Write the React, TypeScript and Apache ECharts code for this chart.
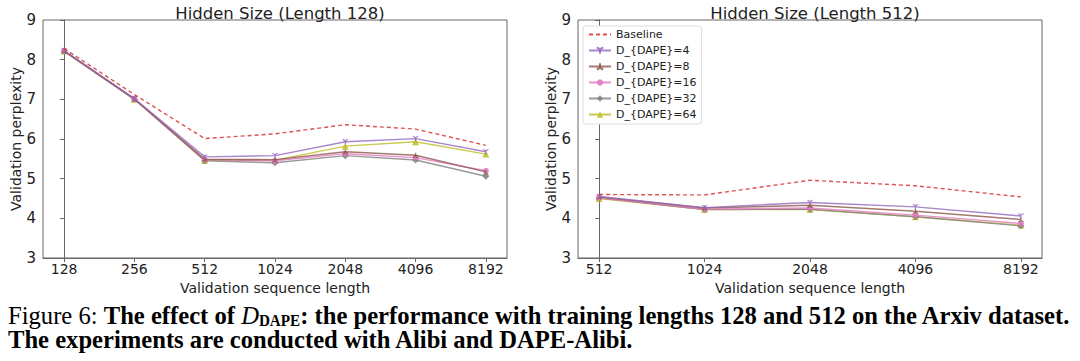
import React, { useEffect, useRef } from "react";
import * as echarts from "echarts";

const leftCats = ["128", "256", "512", "1024", "2048", "4096", "8192"];
const rightCats = ["512", "1024", "2048", "4096", "8192"];
const yTicks = [3, 4, 5, 6, 7, 8, 9];

const seriesNames = ["Baseline", "D_{DAPE}=4", "D_{DAPE}=8", "D_{DAPE}=16", "D_{DAPE}=32", "D_{DAPE}=64"];

// Length 128 panel
const left_baseline = [8.28, 7.12, 6.01, 6.13, 6.36, 6.25, 5.84];
const left_d4 = [8.23, 7.02, 5.55, 5.58, 5.93, 6.01, 5.68];
const left_d8 = [8.22, 7.01, 5.49, 5.48, 5.68, 5.59, 5.17];
const left_d16 = [8.22, 7.01, 5.48, 5.45, 5.63, 5.53, 5.2];
const left_d32 = [8.21, 7.0, 5.45, 5.4, 5.58, 5.47, 5.06];
const left_d64 = [8.22, 7.0, 5.46, 5.46, 5.82, 5.93, 5.62];

// Length 512 panel
const right_baseline = [4.6, 4.59, 4.96, 4.82, 4.54];
const right_d4 = [4.55, 4.27, 4.4, 4.29, 4.06];
const right_d8 = [4.54, 4.26, 4.33, 4.18, 3.97];
const right_d16 = [4.52, 4.23, 4.26, 4.08, 3.87];
const right_d32 = [4.52, 4.22, 4.23, 4.04, 3.81];
const right_d64 = [4.5, 4.22, 4.22, 4.04, 3.83];

const colors = ["#d62728", "#9467bd", "#8c564b", "#e377c2", "#7f7f7f", "#bcbd22"];
const symbols = [
  "none",
  "path://M0,0 L0,6 M0,0 L-5.2,-3 M0,0 L5.2,-3",
  "path://M0,0 L0,-6 M0,0 L-5.2,3 M0,0 L5.2,3",
  "circle",
  "diamond",
  "triangle",
];
const symbolSizes = [0, 5, 5, 6, 7, 7];

const FONT = "DejaVu Sans";
const SERIF = "Liberation Serif";

export default function App() {
  const ref = useRef<HTMLDivElement>(null);
  useEffect(() => {
    document.body.style.margin = "0";
    if (!ref.current) return;
    const chart = echarts.init(ref.current, undefined, { renderer: "svg" });

    const leftData = [left_baseline, left_d4, left_d8, left_d16, left_d32, left_d64];
    const rightData = [right_baseline, right_d4, right_d8, right_d16, right_d32, right_d64];

    const mkSeries = (data: number[][], axisIndex: number) =>
      data.map((vals, k) => ({
        name: seriesNames[k],
        type: "line",
        xAxisIndex: axisIndex,
        yAxisIndex: axisIndex,
        data: vals.map((v, i) => [i, v]),
        symbol: symbols[k],
        symbolSize: symbolSizes[k],
        showSymbol: k !== 0,
        lineStyle: {
          color: colors[k],
          width: 1.4,
          type: k === 0 ? [4, 3] : "solid",
          opacity: 0.8,
        },
        itemStyle: {
          color: colors[k],
          borderColor: colors[k],
          borderWidth: k === 1 || k === 2 ? 1.1 : 0,
          opacity: 0.85,
        },
        z: 10 - k,
      }));

    const yAxisCommon = (idx: number) => ({
      type: "value",
      gridIndex: idx,
      min: yTicks[0],
      max: yTicks[yTicks.length - 1],
      interval: 1,
      name: "Validation perplexity",
      nameLocation: "middle",
      nameGap: 13,
      nameTextStyle: { fontFamily: FONT, fontSize: 14, color: "#222" },
      axisLine: { show: true, lineStyle: { color: "#666", width: 1 } },
      axisTick: { show: true, length: 4, lineStyle: { color: "#666" } },
      axisLabel: { fontFamily: FONT, fontSize: 15, color: "#222", margin: 7 },
      splitLine: { show: false },
    });

    const xAxisCommon = (idx: number, cats: string[]) => {
      const idxs = cats.map((_, i) => i);
      return {
        type: "value",
        gridIndex: idx,
        min: -0.05 * (cats.length - 1),
        max: cats.length - 1 + 0.05 * (cats.length - 1),
        name: "Validation sequence length",
        nameLocation: "middle",
        nameGap: 18,
        nameTextStyle: { fontFamily: FONT, fontSize: 14, color: "#222" },
        axisLine: { show: true, lineStyle: { color: "#666", width: 1 } },
        axisTick: { show: true, length: 4, customValues: idxs, lineStyle: { color: "#666" } },
        axisLabel: {
          fontFamily: FONT,
          fontSize: 14,
          color: "#222",
          margin: 4,
          customValues: idxs,
          formatter: (v: number) => cats[Math.round(v)] ?? "",
        },
        splitLine: { show: false },
      };
    };

    const legendData = seriesNames.map((n, k) =>
      k === 0 ? { name: n, itemStyle: { opacity: 0 } } : { name: n }
    );

    chart.setOption({
      animation: false,
      backgroundColor: "#ffffff",
      title: [
        {
          text: "Hidden Size (Length 128)",
          left: 275,
          top: 0,
          textAlign: "center",
          textStyle: { fontFamily: FONT, fontSize: 16.5, fontWeight: "normal", color: "#222" },
        },
        {
          text: "Hidden Size (Length 512)",
          left: 810,
          top: 0,
          textAlign: "center",
          textStyle: { fontFamily: FONT, fontSize: 16.5, fontWeight: "normal", color: "#222" },
        },
      ],
      legend: {
        data: legendData,
        orient: "vertical",
        left: 583,
        top: 26,
        itemWidth: 22,
        itemHeight: 8,
        itemGap: 3,
        padding: [2, 5, 3, 5],
        borderColor: "#ddd",
        borderWidth: 1,
        borderRadius: 3,
        backgroundColor: "#fff",
        textStyle: { fontFamily: FONT, fontSize: 11, lineHeight: 13, color: "#222" },
      },
      grid: [
        { left: 43, top: 20, width: 464, height: 238, show: true, borderColor: "#666", borderWidth: 1 },
        { left: 578, top: 20, width: 464, height: 238, show: true, borderColor: "#666", borderWidth: 1 },
      ],
      xAxis: [xAxisCommon(0, leftCats), xAxisCommon(1, rightCats)],
      yAxis: [yAxisCommon(0), yAxisCommon(1)],
      series: [...mkSeries(leftData, 0), ...mkSeries(rightData, 1)],
      graphic: [
        {
          type: "text",
          x: 8,
          y: 328,
          scaleX: 0.947,
          style: {
            text:
              "{r|Figure 6: }{b|The effect of }{i|D}{s|DAPE}{b|: the performance with training lengths 128 and 512 on the Arxiv dataset.}",
            verticalAlign: "bottom",
            rich: {
              r: { fontFamily: SERIF, fontSize: 26, fill: "#000" },
              b: { fontFamily: SERIF, fontSize: 26, fontWeight: "bold", fill: "#000" },
              i: { fontFamily: SERIF, fontSize: 26, fontStyle: "italic", fill: "#000" },
              s: { fontFamily: SERIF, fontSize: 16, fontWeight: "bold", fill: "#000", verticalAlign: "bottom" },
            },
          },
        },
        {
          type: "text",
          x: 8,
          y: 352,
          scaleX: 0.947,
          style: {
            text: "The experiments are conducted with Alibi and DAPE-Alibi.",
            fontFamily: SERIF,
            fontSize: 26,
            fontWeight: "bold",
            fill: "#000",
            verticalAlign: "bottom",
          },
        },
      ],
    });
    return () => chart.dispose();
  }, []);
  return <div ref={ref} style={{ width: 1080, height: 361 }} />;
}
